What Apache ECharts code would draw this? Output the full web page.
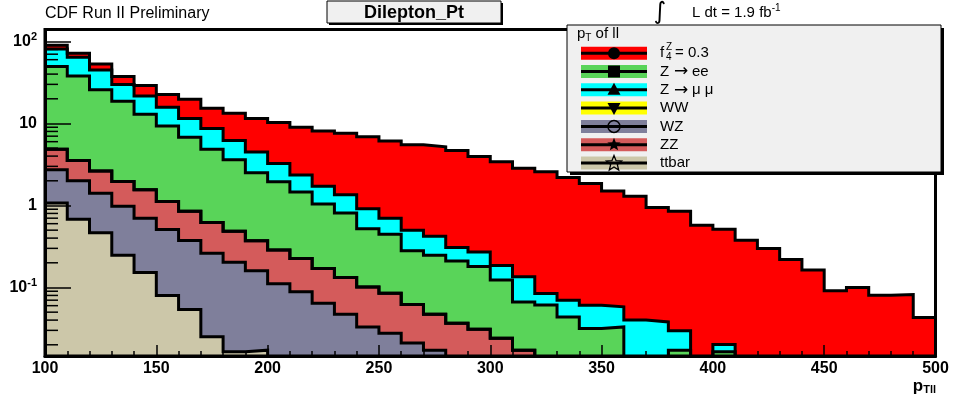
<!DOCTYPE html>
<html>
<head>
<meta charset="utf-8">
<script src="https://cdn.jsdelivr.net/npm/echarts@6/dist/echarts.min.js"></script>
<style>
  html, body { margin: 0; padding: 0; background: #ffffff; }
  #chart { width: 960px; height: 396px; }
</style>
</head>
<body>
<div id="chart"></div>
<script>
// Dilepton transverse momentum, 10 GeV/c bins from 100 to 500
const binEdges = [100, 110, 120, 130, 140, 150, 160, 170, 180, 190,
                  200, 210, 220, 230, 240, 250, 260, 270, 280, 290,
                  300, 310, 320, 330, 340, 350, 360, 370, 380, 390,
                  400, 410, 420, 430, 440, 450, 460, 470, 480, 490, 500];

// Expected events per bin for each process
const ttbar = [1.07, 0.68, 0.465, 0.247, 0.152, 0.08, 0.054, 0.025, 0.0164, 0.0172,
               0, 0, 0, 0, 0, 0, 0, 0, 0, 0,
               0, 0, 0, 0, 0, 0, 0, 0, 0, 0,
               0, 0, 0, 0, 0, 0, 0, 0, 0, 0];
const wz = [1.65, 1.32, 0.945, 0.733, 0.548, 0.43, 0.321, 0.237, 0.187, 0.143,
            0.111, 0.089, 0.064, 0.047, 0.033, 0.0277, 0.021, 0.0172, 0, 0,
            0, 0, 0, 0, 0, 0, 0, 0, 0, 0,
            0, 0, 0, 0, 0, 0, 0, 0, 0, 0];
const zz = [2.14, 1.54, 1.23, 0.98, 0.85, 0.61, 0.475, 0.358, 0.282, 0.212,
            0.175, 0.136, 0.106, 0.085, 0.068, 0.0573, 0.041, 0.0298, 0.0365, 0.031,
            0.024, 0.0172, 0, 0, 0, 0, 0, 0, 0, 0,
            0, 0, 0, 0, 0, 0, 0, 0, 0, 0];
const ww = [0, 0, 0, 0, 0, 0, 0, 0, 0, 0,
            0, 0, 0, 0, 0, 0, 0, 0, 0, 0,
            0, 0, 0, 0, 0, 0, 0, 0, 0, 0,
            0, 0, 0, 0, 0, 0, 0, 0, 0, 0];
const zee = [44.8, 34.5, 23.2, 16.7, 11.45, 8.18, 5.95, 4.23, 3.12, 2.13,
             1.66, 1.24, 0.87, 0.678, 0.419, 0.362, 0.218, 0.201, 0.174, 0.149,
             0.099, 0.0495, 0.061, 0.0438, 0.0316, 0.033, 0, 0, 0.0172, 0,
             0.0164, 0, 0, 0, 0, 0, 0, 0, 0, 0];
const zmumu = [31.3, 26, 18.9, 11.3, 8.7, 6.5, 4.7, 3.85, 2.6, 2.0,
               1.3, 0.89, 0.68, 0.54, 0.39, 0.253, 0.22, 0.172, 0.096, 0.09,
               0.062, 0.0683, 0.0235, 0.0262, 0.0293, 0.025, 0.04, 0.038, 0.0124, 0,
               0.0038, 0, 0, 0, 0, 0, 0, 0, 0, 0];
const f4z = [9, 8, 8.3, 7.5, 7.3, 6.7, 8.3, 6.6, 7.1, 7.0,
             7.05, 6.65, 6.38, 6.25, 5.99, 5.4, 5.0, 4.78, 4.39, 3.7,
             3.24, 2.7, 2.49, 2.12, 1.79, 1.44, 1.26, 0.907, 0.822, 0.575,
             0.494, 0.377, 0.299, 0.22, 0.163, 0.091, 0.1, 0.0805, 0.082, 0.043];

// Axis ticks
const xTickValues = [100, 150, 200, 250, 300, 350, 400, 450, 500];
const yMinorTicks = [0.02, 0.03, 0.04, 0.05, 0.06, 0.07, 0.08, 0.09,
                     0.2, 0.3, 0.4, 0.5, 0.6, 0.7, 0.8, 0.9,
                     2, 3, 4, 5, 6, 7, 8, 9,
                     20, 30, 40, 50, 60, 70, 80, 90];

// Legend entries (top to bottom); arrow entries are split around the arrow
const legendLabels = [['f', 'Z', '4', '= 0.3'], ['Z', '\u2192', 'ee'], ['Z', '\u2192', '\u03bc \u03bc'],
                      ['WW'], ['WZ'], ['ZZ'], ['ttbar']];

const FONT = '"Liberation Sans", Arial, Helvetica, sans-serif';
const Y_MIN = 0.0146;
const Y_MAX = 140;
const FLOOR = 1e-4;   // empty bins sit below the frame and get clipped

// Stack order, bottom to top
const layers = [
  { name: 'ttbar', values: ttbar, color: '#ccc7a9', marker: 'openStar' },
  { name: 'WZ', values: wz, color: '#7f7f9b', marker: 'openCircle' },
  { name: 'ZZ', values: zz, color: '#d45b5b', marker: 'star' },
  { name: 'WW', values: ww, color: '#ffff00', marker: 'triDown' },
  { name: 'Z->ee', values: zee, color: '#59d459', marker: 'square' },
  { name: 'Z->mumu', values: zmumu, color: '#00ffff', marker: 'triUp' },
  { name: 'f4Z', values: f4z, color: '#ff0000', marker: 'circle' }
];

// Running sums give the outline of each stacked histogram
const cumulative = [];
layers.forEach((layer, k) => {
  cumulative.push(layer.values.map((v, i) => v + (k > 0 ? cumulative[k - 1][i] : 0)));
});

// Draw the largest sum first so each smaller one is painted over it
const histSeries = [];
for (let k = layers.length - 1; k >= 0; k--) {
  const sums = cumulative[k];
  const nBins = sums.length;
  histSeries.push({
    name: layers[k].name,
    type: 'line',
    step: 'end',
    symbol: 'none',
    clip: true,
    silent: true,
    z: 2,
    data: binEdges.map((edge, i) => [edge, Math.max(sums[Math.min(i, nBins - 1)], FLOOR)]),
    lineStyle: { color: '#000000', width: 3, join: 'miter' },
    areaStyle: { color: layers[k].color, opacity: 1, origin: 'start' }
  });
}

// Minor ticks on the log axis at 2..9 of each decade
histSeries.push({
  type: 'custom',
  silent: true,
  z: 8,
  clip: false,
  data: yMinorTicks.map(v => [binEdges[0], v]),
  renderItem: function (params, api) {
    const p = api.coord([api.value(0), api.value(1)]);
    return {
      type: 'line',
      shape: { x1: p[0], y1: p[1], x2: p[0] + 13, y2: p[1] },
      style: { stroke: '#000000', lineWidth: 1.5 }
    };
  }
});

// Legend panel
const LEG = { x: 567, y: 25, w: 374, h: 147 };
const rowY = [53.3, 71.5, 89.8, 108.1, 126.4, 144.7, 163];
const boxX = 581, boxW = 66, boxH = 13, markX = 614;

function starPoints(cx, cy, ro, ri) {
  const pts = [];
  for (let i = 0; i < 10; i++) {
    const r = i % 2 === 0 ? ro : ri;
    const a = -Math.PI / 2 + i * Math.PI / 5;
    pts.push([cx + r * Math.cos(a), cy + r * Math.sin(a)]);
  }
  return pts;
}

function markerShape(kind, cx, cy) {
  const z = 103;
  switch (kind) {
    case 'circle':
      return { type: 'circle', z, shape: { cx, cy, r: 6 }, style: { fill: '#000' } };
    case 'square':
      return { type: 'rect', z, shape: { x: cx - 6, y: cy - 6, width: 12, height: 12 }, style: { fill: '#000' } };
    case 'triUp':
      return { type: 'polygon', z, shape: { points: [[cx, cy - 7], [cx + 6.5, cy + 5], [cx - 6.5, cy + 5]] }, style: { fill: '#000' } };
    case 'triDown':
      return { type: 'polygon', z, shape: { points: [[cx, cy + 7], [cx + 6.5, cy - 5], [cx - 6.5, cy - 5]] }, style: { fill: '#000' } };
    case 'openCircle':
      return { type: 'circle', z, shape: { cx, cy, r: 6 }, style: { fill: 'none', stroke: '#000', lineWidth: 1.5 } };
    case 'star':
      return { type: 'polygon', z, shape: { points: starPoints(cx, cy, 7, 3) }, style: { fill: '#000' } };
    default:
      return { type: 'polygon', z, shape: { points: starPoints(cx, cy + 0.5, 8, 3.5) }, style: { fill: 'none', stroke: '#000', lineWidth: 1.3 } };
  }
}

function legendText(x, y, text, size, family) {
  return { type: 'text', z: 102, x, y, style: { text, fontFamily: family || FONT, fontSize: size, fill: '#000', verticalAlign: 'middle', align: 'left' } };
}

const legendOrder = [6, 4, 5, 3, 1, 2, 0];   // layer index per legend row
const graphics = [];

// Panel shadow and face
graphics.push({ type: 'rect', z: 100, shape: { x: LEG.x + 3, y: LEG.y + 3, width: LEG.w, height: LEG.h }, style: { fill: '#000' } });
graphics.push({ type: 'rect', z: 101, shape: { x: LEG.x, y: LEG.y, width: LEG.w, height: LEG.h }, style: { fill: '#f0f0f0', stroke: '#000', lineWidth: 1 } });
graphics.push({
  type: 'text', z: 102, x: 577, y: 34,
  style: {
    text: '{n|p}{s|T}{n| of ll}', verticalAlign: 'middle', align: 'left',
    rich: {
      n: { fontFamily: FONT, fontSize: 15, fill: '#000' },
      s: { fontFamily: FONT, fontSize: 10, fill: '#000', padding: [8, 0, 0, 0] }
    }
  }
});

legendOrder.forEach((k, row) => {
  const cy = rowY[row];
  const parts = legendLabels[row];
  graphics.push({ type: 'rect', z: 102, shape: { x: boxX, y: cy - boxH / 2, width: boxW, height: boxH }, style: { fill: layers[k].color } });
  graphics.push({ type: 'line', z: 102, shape: { x1: boxX, y1: cy, x2: boxX + boxW, y2: cy }, style: { stroke: '#000', lineWidth: 3 } });
  graphics.push(markerShape(layers[k].marker, markX, cy));
  if (parts.length === 4) {
    // f with stacked super/subscript
    graphics.push(legendText(660, cy, parts[0], 15));
    graphics.push(legendText(666, cy - 6, parts[1], 10));
    graphics.push(legendText(666, cy + 4, parts[2], 10));
    graphics.push(legendText(675, cy, parts[3], 15));
  } else if (parts.length === 3) {
    graphics.push(legendText(660, cy, parts[0], 15));
    graphics.push({ type: 'text', z: 102, x: 681, y: cy + 0.5, style: { text: parts[1], fontFamily: '"DejaVu Sans"', fontSize: 17, fill: '#000', verticalAlign: 'middle', align: 'center' } });
    graphics.push(legendText(692, cy, parts[2], 15));
  } else {
    graphics.push(legendText(660, cy, parts[0], 15));
  }
});

// Header: histogram title box, experiment tag and luminosity
graphics.push({ type: 'rect', z: 100, shape: { x: 329, y: 3, width: 174, height: 22 }, style: { fill: '#000' } });
graphics.push({ type: 'rect', z: 101, shape: { x: 327, y: 1, width: 174, height: 22 }, style: { fill: '#f0f0f0', stroke: '#000', lineWidth: 1 } });
graphics.push({ type: 'text', z: 102, x: 414, y: 13, style: { text: 'Dilepton_Pt', fontFamily: FONT, fontWeight: 'bold', fontSize: 18, fill: '#000', align: 'center', verticalAlign: 'middle' } });
graphics.push({ type: 'text', z: 102, x: 45, y: 14, style: { text: 'CDF Run II Preliminary', fontFamily: FONT, fontSize: 16, fill: '#000', align: 'left', verticalAlign: 'middle' } });
graphics.push({ type: 'text', z: 102, x: 660, y: 12.5, style: { text: '\u222b', fontFamily: '"DejaVu Sans"', fontSize: 24, fill: '#000', align: 'center', verticalAlign: 'middle' } });
graphics.push({
  type: 'text', z: 102, x: 692, y: 13,
  style: {
    text: '{n|L dt = 1.9 fb}{s|-1}', align: 'left', verticalAlign: 'middle',
    rich: {
      n: { fontFamily: FONT, fontSize: 15, fill: '#000' },
      s: { fontFamily: FONT, fontSize: 10, fill: '#000', padding: [0, 0, 9, 0] }
    }
  }
});
// Axis title p_T(ll)
graphics.push({
  type: 'text', z: 102, x: 936, y: 386,
  style: {
    text: '{n|p}{s|Tll}', align: 'right', verticalAlign: 'middle',
    rich: {
      n: { fontFamily: FONT, fontWeight: 'bold', fontSize: 17, fill: '#000' },
      s: { fontFamily: FONT, fontWeight: 'bold', fontSize: 11, fill: '#000', padding: [8, 0, 0, 0] }
    }
  }
});

const chart = echarts.init(document.getElementById('chart'), null, { renderer: 'canvas' });
chart.setOption({
  animation: false,
  backgroundColor: '#ffffff',
  grid: {
    left: 45, right: 24.5, top: 29.5, bottom: 40,
    show: true, borderColor: '#000', borderWidth: 3, backgroundColor: 'transparent', z: 10
  },
  xAxis: {
    type: 'value',
    min: xTickValues[0],
    max: xTickValues[xTickValues.length - 1],
    interval: 50,
    z: 10,
    axisLine: { show: true, lineStyle: { color: '#000', width: 3 } },
    axisTick: { show: true, inside: true, length: 11, lineStyle: { color: '#000', width: 1.5 } },
    minorTick: { show: true, splitNumber: 5, length: 5, lineStyle: { color: '#000', width: 1.5 } },
    splitLine: { show: false },
    axisLabel: {
      margin: 5, color: '#000', fontFamily: FONT, fontWeight: 'bold', fontSize: 16,
      formatter: v => (xTickValues.indexOf(v) >= 0 ? String(v) : '')
    }
  },
  yAxis: {
    type: 'log',
    logBase: 10,
    min: Y_MIN,
    max: Y_MAX,
    z: 10,
    axisLine: { show: true, lineStyle: { color: '#000', width: 3 } },
    axisTick: { show: true, inside: true, length: 26, lineStyle: { color: '#000', width: 1.5 } },
    splitLine: { show: false },
    axisLabel: {
      margin: 8, color: '#000',
      formatter: function (v) {
        const lg = Math.log10(v);
        const e = Math.round(lg);
        if (Math.abs(lg - e) > 1e-6) return '';
        if (e === 0) return '{b|1}';
        if (e === 1) return '{b|10}';
        return '{b|10}{s|' + e + '}';
      },
      rich: {
        b: { fontFamily: FONT, fontWeight: 'bold', fontSize: 16, color: '#000' },
        s: { fontFamily: FONT, fontWeight: 'bold', fontSize: 11, color: '#000', padding: [0, 0, 9, 0] }
      }
    }
  },
  series: histSeries,
  graphic: { elements: graphics }
});
</script>
</body>
</html>
